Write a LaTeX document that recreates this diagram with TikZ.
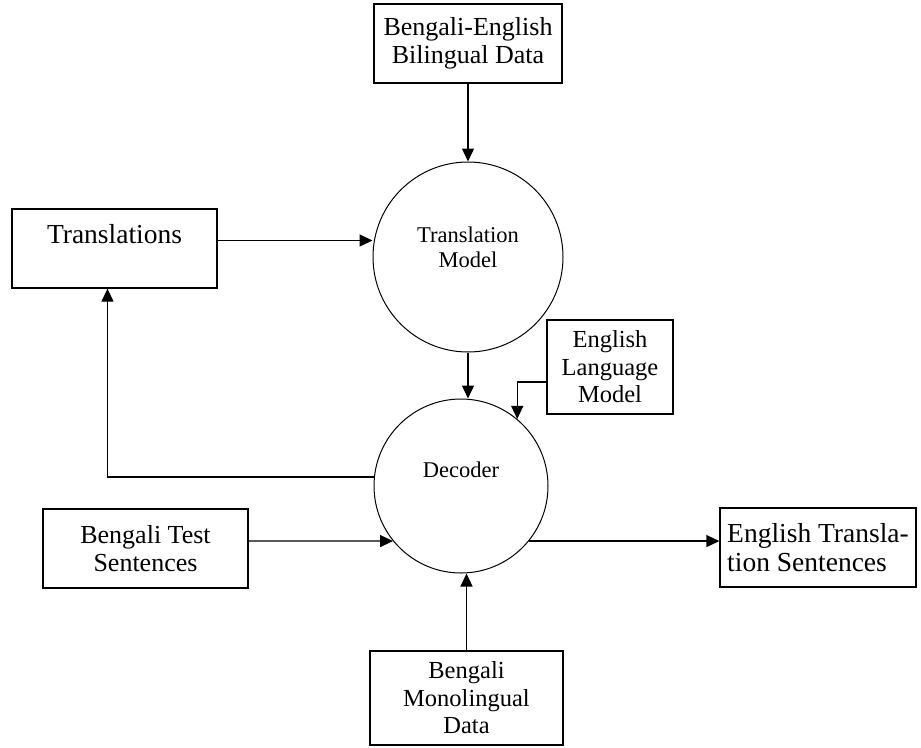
\documentclass[tikz,border=0pt]{standalone}
\usepackage{fontspec}
\setmainfont{Liberation Serif}
\usetikzlibrary{positioning,arrows.meta}

\begin{document}
\begin{tikzpicture}[
    x=1pt, y=-1pt,
    >={Triangle[length=13pt,width=12pt]},
    box/.style={draw, line width=1.3pt, align=center, inner sep=0pt,
                font=\fontsize{26}{28.5}\selectfont},
    bigbox/.style={box, font=\fontsize{27.5}{29}\selectfont},
    smallbox/.style={box, font=\fontsize{24.5}{27.5}\selectfont},
    proc/.style={draw, circle, line width=1pt, inner sep=0pt},
    inlabel/.style={font=\fontsize{22.5}{25}\selectfont, align=center},
    arr/.style={->, line width=1.3pt},
  ]
  \useasboundingbox (0,0) rectangle (921,747);

  % --- data boxes ---
  \node[box, minimum width=188pt, minimum height=79pt] (bil)   at (468,43.5)   {Bengali-English\\Bilingual Data};
  \node[bigbox, minimum width=205pt, minimum height=79pt] (trans) at (114.5,248.5) {Translations\\\mbox{}};
  \node[smallbox, minimum width=126pt, minimum height=94pt] (elm) at (610,367) {English\\Language\\Model};
  \node[box, minimum width=205pt, minimum height=79pt] (test)  at (145.5,548.5) {Bengali Test\\Sentences};
  \node[bigbox, minimum width=196pt, minimum height=79pt, align=left] (ets) at (818,547.5) {English Transla-\\tion Sentences};
  \node[smallbox, minimum width=193pt, minimum height=94pt] (mono) at (466.5,698) {Bengali\\Monolingual\\Data};

  % --- processes ---
  \node[proc, minimum size=190pt, label={[inlabel, yshift=10pt]center:{Translation\\Model}}] (tm) at (468,257) {};
  \node[proc, minimum size=174pt, label={[inlabel, yshift=16pt]center:{Decoder}}] (dec) at (461,486) {};

  % --- connectors ---
  \coordinate (tin) at ([yshift=8pt]trans.east);
  \draw[arr] (bil) -- (tm);
  \draw[arr] (tin) -- (tin -| tm.west);
  \draw[arr] (tm) -- (tm.south |- dec.north);
  \draw[arr] ([yshift=-15pt]elm.west) -| (dec.50);
  \draw[arr] (dec.174) -| ([xshift=-7pt]trans.south);
  \draw[arr] ([yshift=7.5pt]test.east) -- (dec.219);
  \draw[arr] (dec.-39) -- (dec.-39 -| ets.west);
  \draw[arr] (mono) -- (mono.north |- dec.south);
\end{tikzpicture}
\end{document}
